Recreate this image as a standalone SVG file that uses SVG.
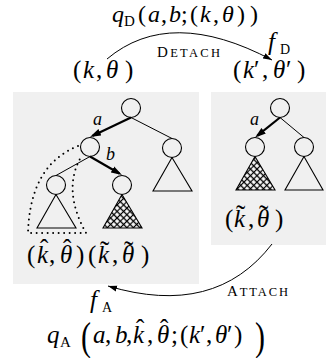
<svg xmlns="http://www.w3.org/2000/svg" width="333" height="358" viewBox="0 0 333 358">
<style>
.m{font-family:"Liberation Serif","Times New Roman",serif;font-size:25px;fill:#000}
.i{font-style:italic}
.sub{font-size:15px}
.sc{font-size:12.5px}
.ac{font-size:25px;font-style:normal}
.tl{font-size:28px;font-style:normal}
.lbl{font-family:"Liberation Serif","Times New Roman",serif;font-size:18px;font-style:italic;fill:#000}
.box{fill:#f0f0f0}
.nd{fill:none;stroke:#000;stroke-width:1.1}
.tri{fill:none;stroke:#000;stroke-width:1.1;stroke-linejoin:miter}
.hat{fill:url(#hatch);stroke:#000;stroke-width:1.1}
.e{fill:none;stroke:#000;stroke-width:1}
.ea{fill:none;stroke:#000;stroke-width:2.2;marker-end:url(#ah)}
.arc{fill:none;stroke:#000;stroke-width:1;marker-end:url(#ah2)}
.dot{fill:none;stroke:#000;stroke-width:2;stroke-dasharray:0 5.5;stroke-linecap:round}
</style>
<defs>
<marker id="ah" markerUnits="userSpaceOnUse" markerWidth="11" markerHeight="8" refX="8" refY="4" orient="auto"><path d="M0,0.5 L11,4 L0,7.5 z" fill="#000"/></marker>
<marker id="ah2" markerUnits="userSpaceOnUse" markerWidth="9" markerHeight="7" refX="9" refY="3.5" orient="auto"><path d="M0,0.5 L9,3.5 L0,6.5 z" fill="#000"/></marker>
<pattern id="hatch" patternUnits="userSpaceOnUse" width="4.6" height="4.6" patternTransform="rotate(45)"><rect width="4.6" height="4.6" fill="#fff"/><path d="M0,2.3 H4.6 M2.3,0 V4.6" stroke="#000" stroke-width="1.2"/></pattern>
</defs>

<g id="box-left"><rect class="box" x="13" y="92" width="186" height="192"/></g>
<g id="box-right"><rect class="box" x="211" y="92" width="115" height="153"/></g>

<g id="connectors">
<path class="ea" d="M131,117.5 L92.7,135.7"/>
<path class="e" d="M131,117.5 L172,138.5"/>
<path class="e" d="M90,156.5 L56,175.5"/>
<path class="ea" d="M90,156.5 L119.4,173.5"/>
<path class="ea" d="M280,117.5 L257.4,135.7"/>
<path class="e" d="M280,117.5 L304,137.5"/>
<path class="arc" d="M107,59 Q170,6 272,60"/>
<path class="arc" d="M272,244 Q215,318 108,286"/>
</g>

<g id="left-root"><circle class="nd" cx="131" cy="108" r="9.5"/></g>
<g id="left-a"><circle class="nd" cx="90" cy="147" r="9.5"/></g>
<g id="left-right"><circle class="nd" cx="172" cy="148" r="9.5"/><path class="tri" d="M172,157.5 L153,191 L192,191 Z"/></g>
<g id="left-hat-subtree"><circle class="nd" cx="56" cy="185" r="9.5"/><path class="tri" d="M56,194.5 L37,228 L76,228 Z"/></g>
<g id="left-b"><circle class="nd" cx="122" cy="185" r="9.5"/><path class="hat" d="M122,194.5 L103,228 L142,228 Z"/></g>
<g id="left-dotted"><path class="dot" d="M78,146 Q30,165 28,233 L86,233 Q62,190 81,157"/></g>

<g id="right-root"><circle class="nd" cx="280" cy="108" r="9.5"/></g>
<g id="right-left"><circle class="nd" cx="255" cy="147" r="9.5"/><path class="hat" d="M255,156.5 L236,190 L275,190 Z"/></g>
<g id="right-right"><circle class="nd" cx="304" cy="147" r="9.5"/><path class="tri" d="M304,156.5 L285,190 L323,190 Z"/></g>

<g id="labels">
<text class="lbl" x="93" y="125">a</text>
<text class="lbl" x="106" y="160">b</text>
<text class="lbl" x="250" y="125">a</text>

<text class="m" y="21.5" style="font-size:24px"><tspan x="112" class="i">q</tspan><tspan x="124" y="25.5" class="sub">D</tspan><tspan x="138" y="21.5">(</tspan><tspan x="148" class="i">a</tspan><tspan x="161">,</tspan><tspan x="169" class="i">b</tspan><tspan x="181">;</tspan><tspan x="190">(</tspan><tspan x="200" class="i">k</tspan><tspan x="213">,</tspan><tspan x="222" class="i">θ</tspan><tspan x="237">)</tspan><tspan x="250">)</tspan></text>
<text class="m" y="50"><tspan x="268" class="i">f</tspan><tspan x="280" y="54" style="font-size:14px">D</tspan></text>
<text class="m" x="157" y="57" textLength="63" lengthAdjust="spacing"><tspan style="font-size:15px">D</tspan><tspan class="sc">ETACH</tspan></text>

<text class="m" y="78"><tspan x="73">(</tspan><tspan x="83" class="i">k</tspan><tspan x="96">,</tspan><tspan x="106" class="i">θ</tspan><tspan x="125">)</tspan></text>
<text class="m" y="78"><tspan x="233">(</tspan><tspan x="243" class="i">k</tspan><tspan x="254">′</tspan><tspan x="262">,</tspan><tspan x="273" class="i">θ</tspan><tspan x="286">′</tspan><tspan x="297">)</tspan></text>

<text class="m" y="263"><tspan x="27">(</tspan><tspan x="37" class="i">k</tspan><tspan x="40" y="256.5" class="ac">ˆ</tspan><tspan x="49" y="263">,</tspan><tspan x="60" class="i">θ</tspan><tspan x="63" y="256.5" class="ac">ˆ</tspan><tspan x="76" y="263">)</tspan></text>
<text class="m" y="263"><tspan x="88">(</tspan><tspan x="98" class="i">k</tspan><tspan x="100" y="260" class="tl">˜</tspan><tspan x="112" y="263">,</tspan><tspan x="122" class="i">θ</tspan><tspan x="124" y="260" class="tl">˜</tspan><tspan x="141" y="263">)</tspan></text>
<text class="m" y="227"><tspan x="225">(</tspan><tspan x="234" class="i">k</tspan><tspan x="236" y="224" class="tl">˜</tspan><tspan x="248" y="227">,</tspan><tspan x="257" class="i">θ</tspan><tspan x="259" y="224" class="tl">˜</tspan><tspan x="275" y="227">)</tspan></text>

<text class="m" x="227" y="296" textLength="61" lengthAdjust="spacing"><tspan style="font-size:15px">A</tspan><tspan class="sc">TTACH</tspan></text>
<text class="m" y="308"><tspan x="90" class="i">f</tspan><tspan x="102" y="312" style="font-size:14px">A</tspan></text>
<text class="m" y="343"><tspan x="47" class="i">q</tspan><tspan x="60" y="347" class="sub">A</tspan><tspan x="93" y="343" class="i">a</tspan><tspan x="105">,</tspan><tspan x="115" class="i">b</tspan><tspan x="126">,</tspan><tspan x="133" class="i">k</tspan><tspan x="136" y="336.5" class="ac">ˆ</tspan><tspan x="147" y="343">,</tspan><tspan x="157" class="i">θ</tspan><tspan x="160" y="336.5" class="ac">ˆ</tspan><tspan x="171" y="343">;</tspan><tspan x="180">(</tspan><tspan x="189" class="i">k</tspan><tspan x="200">′</tspan><tspan x="206">,</tspan><tspan x="215" class="i">θ</tspan><tspan x="227">′</tspan><tspan x="234">)</tspan></text>
<text class="m" transform="translate(81,350) scale(0.75,1)" style="font-size:40px">(</text>
<text class="m" transform="translate(255,350) scale(0.75,1)" style="font-size:40px">)</text>
</g>
</svg>
